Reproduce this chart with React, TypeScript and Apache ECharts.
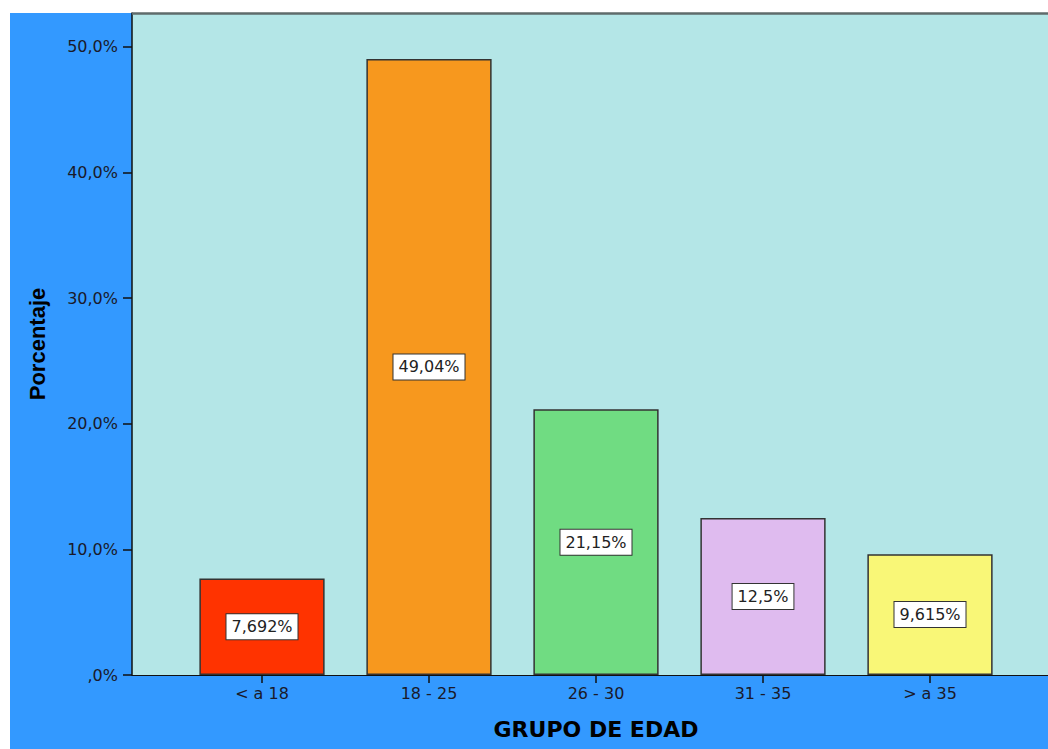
import React, { useEffect, useRef } from "react";
import * as echarts from "echarts";

// Age-group distribution (percentage of respondents)
const categories = ["< a 18", "18 - 25", "26 - 30", "31 - 35", "> a 35"];
const percentages = [7.692, 49.04, 21.15, 12.5, 9.615];
const valueLabels = ["7,692%", "49,04%", "21,15%", "12,5%", "9,615%"];
const barColors = ["#ff3300", "#f7981e", "#70dc82", "#dfbbef", "#f9f777"];
const yTicks = [0, 10, 20, 30, 40, 50];
const yTickLabels = [",0%", "10,0%", "20,0%", "30,0%", "40,0%", "50,0%"];

const Y_MAX = 52.7;
const FONT = "'DejaVu Sans', Verdana, sans-serif";

export default function App() {
  const ref = useRef<HTMLDivElement>(null);

  useEffect(() => {
    if (!ref.current) return;
    const chart = echarts.init(ref.current, undefined, { renderer: "svg" });

    chart.setOption({
      animation: false,
      backgroundColor: "#3399ff",
      textStyle: { fontFamily: FONT },
      grid: [
        // plot frame (cyan panel with the axes)
        {
          left: 132,
          right: 0,
          top: 13,
          bottom: 74,
          show: true,
          backgroundColor: "#b4e6e7",
          borderWidth: 0,
        },
        // band area where the bars sit
        {
          left: 178.5,
          right: 34.5,
          top: 13,
          bottom: 74,
        },
      ],
      xAxis: [
        {
          gridIndex: 0,
          type: "value",
          min: 0,
          max: 1,
          axisLine: { show: true, lineStyle: { color: "#111", width: 1 } },
          axisTick: { show: false },
          axisLabel: { show: false },
          splitLine: { show: false },
        },
        {
          gridIndex: 1,
          type: "category",
          data: categories,
          axisLine: { show: false },
          axisTick: {
            show: true,
            alignWithLabel: true,
            length: 8,
            lineStyle: { color: "#111", width: 1.5 },
          },
          axisLabel: {
            margin: 10,
            fontSize: 16,
            fontFamily: FONT,
            color: "#1a1a2a",
          },
          name: "GRUPO DE EDAD",
          nameLocation: "middle",
          nameGap: 43,
          nameTextStyle: {
            fontSize: 22,
            fontWeight: "bold",
            fontFamily: FONT,
            color: "#000",
          },
        },
      ],
      yAxis: [
        {
          gridIndex: 0,
          type: "value",
          min: 0,
          max: Y_MAX,
          interval: 10,
          axisLine: { show: true, lineStyle: { color: "#111", width: 1.5 } },
          axisTick: {
            show: true,
            length: 9,
            customValues: yTicks,
            lineStyle: { color: "#111", width: 1.5 },
          },
          axisLabel: {
            customValues: yTicks,
            margin: 14,
            fontSize: 16,
            fontFamily: FONT,
            color: "#1a1a2a",
            formatter: (v: number) => {
              const i = yTicks.indexOf(Math.round(v));
              return i >= 0 ? yTickLabels[i] : "";
            },
          },
          splitLine: { show: false },
          name: "Porcentaje",
          nameLocation: "middle",
          nameGap: 84,
          nameRotate: 90,
          nameTextStyle: {
            fontSize: 22,
            fontWeight: "bold",
            fontFamily: "'Liberation Sans', Arial, sans-serif",
            color: "#000",
          },
        },
        {
          gridIndex: 1,
          type: "value",
          min: 0,
          max: Y_MAX,
          show: false,
          splitLine: { show: false },
        },
      ],
      series: [
        {
          type: "bar",
          xAxisIndex: 1,
          yAxisIndex: 1,
          barWidth: "75%",
          data: percentages.map((v, i) => ({
            value: v,
            itemStyle: {
              color: barColors[i],
              borderColor: "#333",
              borderWidth: 1.5,
            },
          })),
          label: {
            show: true,
            position: "inside",
            formatter: (p: any) => valueLabels[p.dataIndex],
            fontSize: 16,
            fontFamily: FONT,
            color: "#222",
            backgroundColor: "#ffffff",
            borderColor: "#333",
            borderWidth: 1,
            padding: [4, 5, 3, 5],
            lineHeight: 18,
          },
        },
      ],
      graphic: [
        {
          type: "rect",
          shape: { x: 0, y: 0, width: 1048, height: 13 },
          style: { fill: "#ffffff" },
          silent: true,
        },
        {
          type: "rect",
          shape: { x: 0, y: 0, width: 10, height: 749 },
          style: { fill: "#ffffff" },
          silent: true,
        },
        {
          type: "line",
          shape: { x1: 132, y1: 13.5, x2: 1048, y2: 13.5 },
          style: { stroke: "#5f6b6b", lineWidth: 2.5 },
          z: 10,
          silent: true,
        },
      ],
    });

    return () => chart.dispose();
  }, []);

  return (
    <div
      ref={ref}
      style={{ position: "absolute", left: 0, top: 0, width: 1048, height: 749 }}
    />
  );
}
